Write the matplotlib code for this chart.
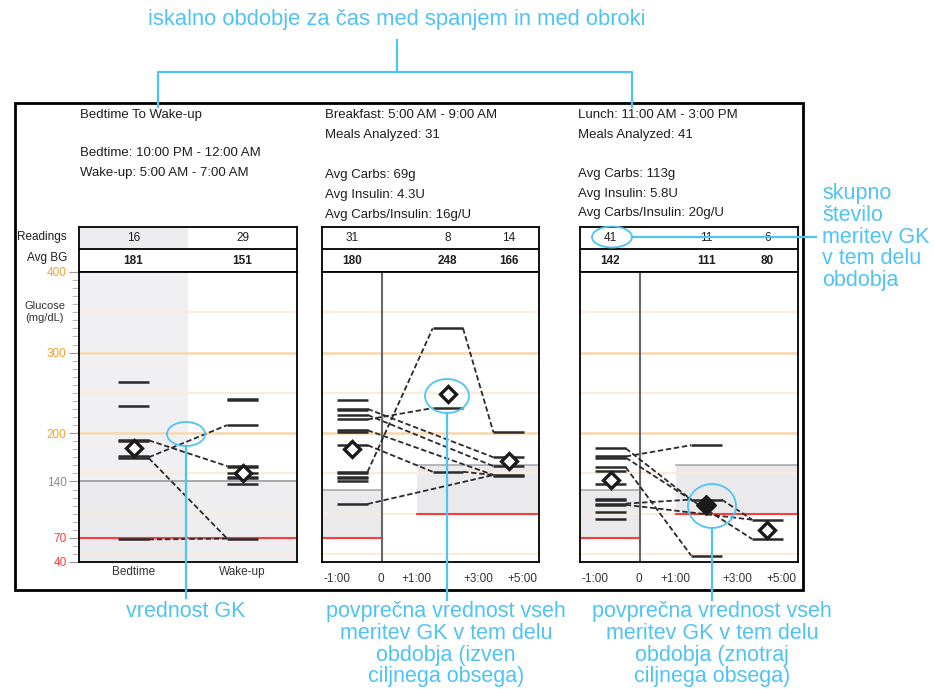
import matplotlib
matplotlib.use("Agg")
import matplotlib.pyplot as plt
from matplotlib.patches import Ellipse, Rectangle

plt.rcParams['font.family'] = ['Liberation Sans', 'DejaVu Sans']

W, H = 934, 689
BLUE = "#4FC3F5"
INK = "#1E1E1E"

# ── data ──────────────────────────────────────────────────────────────────────
# bedtime -> wake-up
bed_cols = ["Bedtime", "Wake-up"]
bed_n = [16, 29]
bed_avg = [181, 151]
bed_bg = [[264, 234, 191, 190, 171, 169, 68],
          [242, 240.5, 210, 159, 157.5, 151, 146, 144.5, 137, 69]]
bed_links = [((0, 191), (1, 159)), ((0, 170), (1, 210)),
             ((0, 169), (1, 69)), ((0, 68), (1, 69))]
bed_header = ["Bedtime To Wake-up", "", "Bedtime: 10:00 PM - 12:00 AM",
              "Wake-up: 5:00 AM - 7:00 AM"]

# meals: columns are pre-meal, +1..3h, +3..5h
meal_ticks = ["-1:00", "0", "+1:00", "+3:00", "+5:00"]

bf_n = [31, 8, 14]
bf_avg = [180, 248, 166]
bf_bg = [[241, 230, 228.5, 222.5, 217, 203.5, 202, 185, 152, 150.5, 146, 144.5, 141, 112],
         [330, 231, 152],
         [201, 170, 159, 148, 146.5]]
bf_links = [((0, 152), (1, 330)), ((1, 330), (2, 201)), ((0, 217), (1, 231)),
            ((0, 230), (2, 170)), ((0, 222.5), (2, 159)), ((0, 203.5), (2, 148)),
            ((0, 185), (1, 152)), ((0, 112), (2, 148)), ((1, 152), (2, 148))]
bf_header = ["Breakfast: 5:00 AM - 9:00 AM", "Meals Analyzed: 31", "",
             "Avg Carbs: 69g", "Avg Insulin: 4.3U", "Avg Carbs/Insulin: 16g/U"]

ln_n = [41, 11, 6]
ln_avg = [142, 111, 80]
ln_bg = [[181, 171, 169.5, 157.5, 152.5, 137, 118, 116.5, 112.5, 111, 101.7, 93.5],
         [185, 117.5, 48],
         [92.5, 68.5]]
ln_links = [((0, 181), (1, 117.5)), ((0, 171), (1, 185)), ((0, 169.5), (2, 68.5)),
            ((0, 157.5), (1, 48)), ((0, 112.5), (1, 117.5)), ((0, 111), (2, 92.5)),
            ((1, 117.5), (2, 92.5))]
ln_header = ["Lunch: 11:00 AM - 3:00 PM", "Meals Analyzed: 41", "",
             "Avg Carbs: 113g", "Avg Insulin: 5.8U", "Avg Carbs/Insulin: 20g/U"]

# target ranges (low, high)
bed_target = (70, 140)
pre_target = (70, 130)
post_target = (100, 160)

y_major = [40, 70, 140, 200, 300, 400]
y_major_colors = ["#FF3B3B", "#FF3B3B", "#8A8A8A", "#F0A030", "#F0A030", "#F0A030"]
grid_faint = [50, 100, 150, 250, 350]
grid_strong = [200, 300]

# ── layout (pixels) ───────────────────────────────────────────────────────────
PANEL_X = [(79, 297), (322, 539), (580, 798)]
TAB_Y = (227, 272)
PLOT_Y = (272, 562)
BED_CENTERS = [25, 75]
MEAL_CENTERS = [14, 58, 86]
MEAL_TICK_POS = [7, 27, 43.6, 72, 92.5]
ZERO_X, POST_X0 = 27.5, 44
HW = 7

fig = plt.figure(figsize=(W / 100, H / 100), dpi=100)


def px_axes(x0, y0, x1, y1):
    return fig.add_axes([x0 / W, 1 - y1 / H, (x1 - x0) / W, (y1 - y0) / H])


def draw_table(x0, x1, centers, n, avg, shade_first=False):
    ax = px_axes(x0, TAB_Y[0], x1, TAB_Y[1])
    ax.set_xlim(0, 100); ax.set_ylim(2, 0)
    ax.set_xticks([]); ax.set_yticks([])
    if shade_first:
        ax.fill_between([0, 50], 0, 1, color="#EDEDF0", lw=0)
    ax.axhline(1, color="black", lw=1.3)
    for c, a, b in zip(centers, n, avg):
        ax.text(c, 0.5, str(a), ha="center", va="center", fontsize=8.5, color=INK)
        ax.text(c, 1.5, str(b), ha="center", va="center", fontsize=8.5, color=INK,
                fontweight="bold")
    for s in ax.spines.values():
        s.set_linewidth(1.3)
    return ax


def draw_plot(x0, x1, centers, bg, avg, links, targets):
    ax = px_axes(x0, PLOT_Y[0], x1, PLOT_Y[1])
    ax.set_xlim(0, 100); ax.set_ylim(40, 400)
    for v in grid_faint:
        ax.axhline(v, color="#FCEBD9", lw=1.5, zorder=1)
    for v in grid_strong:
        ax.axhline(v, color="#F7D7B0", lw=1.8, zorder=1)
    for i, vals in enumerate(bg):
        for v in vals:
            ax.plot([centers[i] - HW, centers[i] + HW], [v, v], color="#2A2A2A",
                    lw=1.8, solid_capstyle="butt", zorder=4)
    for (ia, va), (ib, vb) in links:
        ax.plot([centers[ia] + HW, centers[ib] - HW], [va, vb], color="#2A2A2A",
                lw=1.3, ls=(0, (3, 1.5)), zorder=3)
    for c, a, (lo, hi) in zip(centers, avg, targets):
        if lo <= a <= hi:
            ax.plot(c, a, marker="D", ms=10, mfc="#1A1A1A", mec="#1A1A1A", zorder=6)
        else:
            ax.plot(c, a, marker="D", ms=8.5, mfc="white", mec="#1A1A1A", mew=2.4,
                    zorder=6)
    for s in ax.spines.values():
        s.set_linewidth(1.3)
    return ax


# ── panel 1: bedtime -> wake-up ───────────────────────────────────────────────
draw_table(*PANEL_X[0], BED_CENTERS, bed_n, bed_avg, shade_first=True)
ax1 = draw_plot(*PANEL_X[0], BED_CENTERS, bed_bg, bed_avg, bed_links,
                [bed_target, bed_target])
ax1.axvspan(0, 50, color="#F0F0F2", lw=0, zorder=0)
ax1.fill_between([0, 100], 40, bed_target[1], color="#E9E9EC", alpha=0.75, lw=0, zorder=0)
ax1.axhline(bed_target[1], color="#999999", lw=1.2, zorder=2)
ax1.axhline(bed_target[0], color="#FF3B3B", lw=1.5, zorder=2)
ax1.set_xticks(BED_CENTERS, bed_cols)
ax1.tick_params(axis="x", length=0, pad=3, labelsize=8.5, labelcolor="#333333")
ax1.set_yticks(y_major, [str(v) for v in y_major])
ax1.set_yticks(range(40, 401, 10), minor=True)
ax1.tick_params(axis="y", which="major", length=7, color="#999999", labelsize=8.5, pad=2)
ax1.tick_params(axis="y", which="minor", length=5, color="#AAAAAA")
for lab, col in zip(ax1.get_yticklabels(), y_major_colors):
    lab.set_color(col)

# ── panels 2, 3: meals ────────────────────────────────────────────────────────
meal_targets = [pre_target, post_target, post_target]
for k, (n, avg, bg, links) in enumerate([(bf_n, bf_avg, bf_bg, bf_links),
                                         (ln_n, ln_avg, ln_bg, ln_links)]):
    x0, x1 = PANEL_X[k + 1]
    draw_table(x0, x1, MEAL_CENTERS, n, avg)
    ax = draw_plot(x0, x1, MEAL_CENTERS, bg, avg, links, meal_targets)
    ax.fill_between([0, ZERO_X], pre_target[0], pre_target[1], color="#EAEAED", lw=0, zorder=0)
    ax.fill_between([POST_X0, 100], post_target[0], post_target[1], color="#EAEAED", lw=0, zorder=0)
    ax.plot([0, ZERO_X], [pre_target[1]] * 2, color="#AAAAAA", lw=1.2, zorder=2)
    ax.plot([0, ZERO_X], [pre_target[0]] * 2, color="#FF3B3B", lw=1.5, zorder=2)
    ax.plot([POST_X0, 100], [post_target[1]] * 2, color="#AAAAAA", lw=1.2, zorder=2)
    ax.plot([POST_X0, 100], [post_target[0]] * 2, color="#FF3B3B", lw=1.5, zorder=2)
    ax.axvline(ZERO_X, color="#666666", lw=1.5, zorder=2)
    ax.set_xticks(MEAL_TICK_POS, meal_ticks)
    ax.tick_params(axis="x", length=0, pad=8, labelsize=8.5, labelcolor="#333333")
    ax.set_yticks([])

# ── overlay: frame, headers, annotations ──────────────────────────────────────
ov = fig.add_axes([0, 0, 1, 1])
ov.set_xlim(0, W); ov.set_ylim(H, 0); ov.axis("off"); ov.set_zorder(10)
ov.add_patch(Rectangle((15, 103), 788, 487, fill=False, ec="black", lw=2))

ov.text(67, 237, "Readings", ha="right", va="center", fontsize=8.5, color=INK)
ov.text(67, 258, "Avg BG", ha="right", va="center", fontsize=8.5, color=INK)
ov.text(45, 312, "Glucose\n(mg/dL)", ha="center", va="center", fontsize=8,
        color="#333333", linespacing=1.3)

for x, lines, ys in [(80, bed_header, [115, 134, 153, 173]),
                     (325, bf_header, [115, 135, 155, 175, 195, 215]),
                     (578, ln_header, [115, 135, 155, 174, 194, 213])]:
    for t, y in zip(lines, ys):
        if t:
            ov.text(x, y, t, ha="left", va="center", fontsize=9.5, color=INK)

# bracket + title
ov.plot([158, 158, 632, 632], [107, 72, 72, 107], color=BLUE, lw=1.6)
ov.plot([397, 397], [72, 40], color=BLUE, lw=1.6)
ov.text(397, 20, "iskalno obdobje za čas med spanjem in med obroki", ha="center",
        va="center", fontsize=15.8, color=BLUE)

# ellipses + leader lines
for cx, cy, w, h in [(186, 434, 38, 24), (447, 396, 44, 34), (712, 506, 48, 44),
                     (612, 237, 40, 21)]:
    ov.add_patch(Ellipse((cx, cy), w, h, fill=False, ec=BLUE, lw=1.3))
ov.plot([186, 186], [446, 598], color=BLUE, lw=1.6)
ov.plot([447, 447], [413, 600], color=BLUE, lw=1.6)
ov.plot([712, 712], [528, 600], color=BLUE, lw=1.6)
ov.plot([632, 816], [237, 237], color=BLUE, lw=1.6)

ov.text(186, 601, "vrednost GK", ha="center", va="top", fontsize=15.5, color=BLUE)
ov.text(446, 601, "povprečna vrednost vseh\nmeritev GK v tem delu\nobdobja (izven\nciljnega obsega)",
        ha="center", va="top", fontsize=15.5, color=BLUE, linespacing=1.05)
ov.text(712, 601, "povprečna vrednost vseh\nmeritev GK v tem delu\nobdobja (znotraj\nciljnega obsega)",
        ha="center", va="top", fontsize=15.5, color=BLUE, linespacing=1.05)
ov.text(822, 183, "skupno\nštevilo\nmeritev GK\nv tem delu\nobdobja", ha="left", va="top",
        fontsize=15.5, color=BLUE, linespacing=1.05)

fig.savefig("out.png", dpi=100)
